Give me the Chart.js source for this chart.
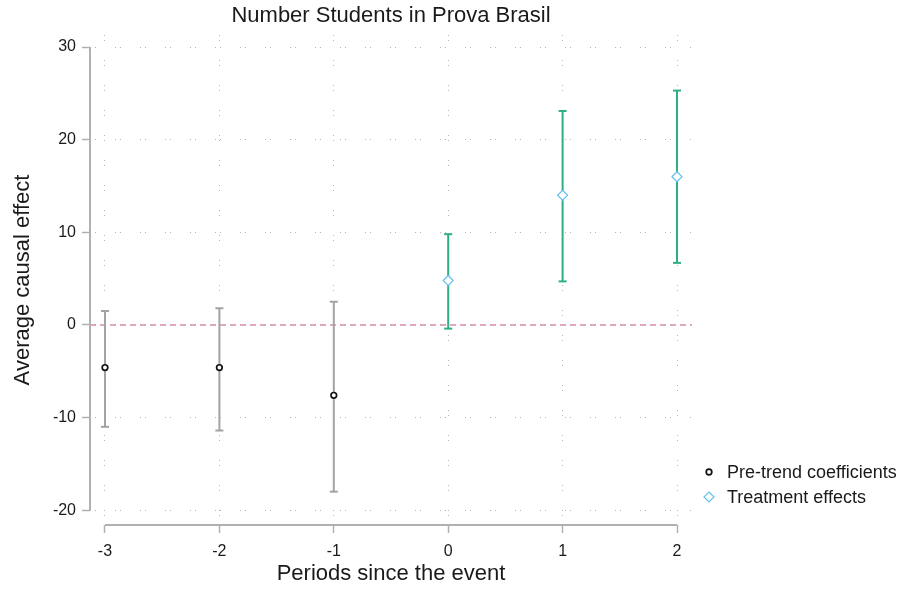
<!DOCTYPE html>
<html>
<head>
<meta charset="utf-8">
<script src="https://cdn.jsdelivr.net/npm/chart.js@4.4.1/dist/chart.umd.min.js"></script>
<style>
  html, body { margin: 0; padding: 0; background: #ffffff; }
  #wrap { width: 899px; height: 590px; }
</style>
</head>
<body>
<div id="wrap"><canvas id="c" width="899" height="590"></canvas></div>
<script>
// ---- data ----
const chartTitle = 'Number Students in Prova Brasil';
const xTitle = 'Periods since the event';
const yTitle = 'Average causal effect';

const prePeriods = [-3, -2, -1];
const preCoef    = [-4.6, -4.6, -7.6];
const preLow     = [-11.0, -11.4, -18.0];
const preHigh    = [1.5, 1.8, 2.5];

const postPeriods = [0, 1, 2];
const postCoef    = [4.8, 14.0, 16.0];
const postLow     = [-0.4, 4.7, 6.7];
const postHigh    = [9.8, 23.1, 25.3];

const xTicks = [-3, -2, -1, 0, 1, 2];
const yTicks = [-20, -10, 0, 10, 20, 30];
const refValue = 0;

const seriesLabels = ['Pre-trend coefficients', 'Treatment effects'];

// ---- styling ----
const FONT = "'Liberation Sans', Arial, Helvetica, sans-serif";
const GRID_COLOR = '#b4b4b4';
const AXIS_COLOR = '#b0b0b0';
const PRE_BAR = '#a3a3a3';
const POST_BAR = '#2fae86';
const PRE_MARK = '#111111';
const POST_MARK = '#66c2ee';

const errGroups = [
  { periods: prePeriods, low: preLow, high: preHigh, color: PRE_BAR },
  { periods: postPeriods, low: postLow, high: postHigh, color: POST_BAR }
];

function line(ctx, x1, y1, x2, y2) {
  ctx.beginPath(); ctx.moveTo(x1, y1); ctx.lineTo(x2, y2); ctx.stroke();
}

function drawMarker(ctx, style, x, y, r, stroke, fill, lw) {
  ctx.save();
  ctx.lineWidth = lw; ctx.strokeStyle = stroke; ctx.fillStyle = fill;
  ctx.beginPath();
  if (style === 'circle') {
    ctx.arc(x, y, r, 0, Math.PI * 2);
  } else {
    ctx.moveTo(x, y - r); ctx.lineTo(x + r, y); ctx.lineTo(x, y + r); ctx.lineTo(x - r, y); ctx.closePath();
  }
  ctx.fill(); ctx.stroke();
  ctx.restore();
}

const overlay = {
  id: 'overlay',
  beforeDatasetsDraw(chart) {
    const { ctx, chartArea: a, scales: { x, y } } = chart;
    ctx.save();
    // reference line at zero
    ctx.strokeStyle = '#d88cae';
    ctx.lineWidth = 1.5;
    ctx.setLineDash([6, 4]);
    const y0 = y.getPixelForValue(refValue);
    line(ctx, a.left, y0, a.right, y0);
    ctx.setLineDash([]);
    // axis lines spanning the tick range
    ctx.strokeStyle = AXIS_COLOR;
    ctx.lineWidth = 2;
    line(ctx, a.left, y.getPixelForValue(yTicks[yTicks.length - 1]), a.left, y.getPixelForValue(yTicks[0]));
    line(ctx, x.getPixelForValue(xTicks[0]), a.bottom, x.getPixelForValue(xTicks[xTicks.length - 1]), a.bottom);
    // error bars
    errGroups.forEach(g => {
      ctx.strokeStyle = g.color;
      ctx.lineWidth = 2;
      g.periods.forEach((p, i) => {
        const px = x.getPixelForValue(p);
        const ylo = y.getPixelForValue(g.low[i]);
        const yhi = y.getPixelForValue(g.high[i]);
        line(ctx, px, ylo, px, yhi);
        line(ctx, px - 4, ylo, px + 4, ylo);
        line(ctx, px - 4, yhi, px + 4, yhi);
      });
    });
    ctx.restore();
  },
  afterDraw(chart) {
    const { ctx, chartArea: a } = chart;
    ctx.save();
    // title
    ctx.fillStyle = '#1a1a1a';
    ctx.font = '22px ' + FONT;
    ctx.textAlign = 'center';
    ctx.textBaseline = 'alphabetic';
    ctx.fillText(chartTitle, (a.left + a.right) / 2, 22);
    // legend
    ctx.font = '18px ' + FONT;
    ctx.textAlign = 'left';
    ctx.textBaseline = 'middle';
    const lx = a.right + 17;
    const ly = 472;
    chart.data.datasets.forEach((ds, i) => {
      const yy = ly + i * 25;
      drawMarker(ctx, ds.pointStyle, lx, yy, ds.pointStyle === 'circle' ? 2.8 : 5,
        ds.pointBorderColor, '#ffffff', ds.pointBorderWidth);
      ctx.fillStyle = '#1a1a1a';
      ctx.fillText(ds.label, lx + 18, yy + 1);
    });
    ctx.restore();
  }
};

const tickFont = { family: FONT, size: 16 };

new Chart(document.getElementById('c'), {
  type: 'scatter',
  data: {
    datasets: [
      {
        label: seriesLabels[0],
        data: prePeriods.map((p, i) => ({ x: p, y: preCoef[i] })),
        pointStyle: 'circle',
        pointRadius: 2.8,
        pointBorderWidth: 1.7,
        pointBorderColor: PRE_MARK,
        pointBackgroundColor: '#ffffff'
      },
      {
        label: seriesLabels[1],
        data: postPeriods.map((p, i) => ({ x: p, y: postCoef[i] })),
        pointStyle: 'rectRot',
        pointRadius: 5,
        pointBorderWidth: 1.2,
        pointBorderColor: POST_MARK,
        pointBackgroundColor: '#ffffff'
      }
    ]
  },
  options: {
    responsive: false,
    animation: false,
    events: [],
    devicePixelRatio: 1,
    layout: { padding: { top: 35, right: 207, left: 0, bottom: 0 } },
    plugins: {
      legend: { display: false },
      title: { display: false },
      tooltip: { enabled: false }
    },
    scales: {
      x: {
        type: 'linear',
        min: -3.131,
        max: 2.131,
        afterBuildTicks: s => { s.ticks = xTicks.map(v => ({ value: v })); },
        afterFit: s => { s.height = 65; },
        ticks: { font: tickFont, color: '#1a1a1a', padding: 9, autoSkip: false, maxRotation: 0 },
        grid: { color: GRID_COLOR, lineWidth: 1, tickLength: 8, tickColor: AXIS_COLOR, tickWidth: 1.5, tickBorderDash: [] },
        border: { display: false, dash: [1, 4, 1, 19] },
        title: { display: true, text: xTitle, font: { family: FONT, size: 22 }, color: '#1a1a1a', padding: { top: 0, bottom: 3 } }
      },
      y: {
        type: 'linear',
        min: -21.6,
        max: 31.3,
        afterBuildTicks: s => { s.ticks = yTicks.map(v => ({ value: v })); },
        afterFit: s => { s.width = 90; },
        ticks: { font: tickFont, color: '#1a1a1a', padding: 6, autoSkip: false },
        grid: { color: GRID_COLOR, lineWidth: 1, tickLength: 8, tickColor: AXIS_COLOR, tickWidth: 1.5, tickBorderDash: [] },
        border: { display: false, dash: [1, 4, 1, 19] },
        title: { display: true, text: yTitle, font: { family: FONT, size: 22 }, color: '#1a1a1a', padding: { top: 10, bottom: 0 } }
      }
    }
  },
  plugins: [overlay]
});
</script>
</body>
</html>
